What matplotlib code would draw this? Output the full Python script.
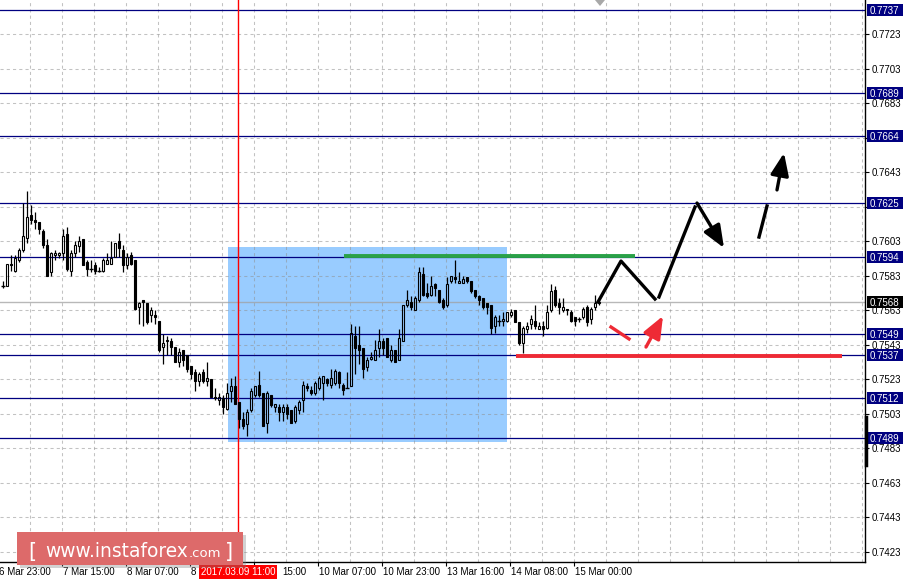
import numpy as np
import matplotlib.pyplot as plt
import matplotlib.transforms as mtransforms
from matplotlib.patches import Rectangle, Polygon

plt.rcParams['font.family'] = ['Liberation Sans', 'DejaVu Sans']

# hourly AUD/USD candles (H1), bar 0 = 6 Mar ~23:00
opens = [0.7577, 0.7577, 0.7590, 0.7586, 0.7592, 0.7598, 0.7605, 0.7618, 0.7615, 0.7614,
         0.7609, 0.7601, 0.7585, 0.7595, 0.7595, 0.7596, 0.7607, 0.7586, 0.7596, 0.7600,
         0.7604, 0.7591, 0.7587, 0.7589, 0.7586, 0.7586, 0.7590, 0.7590, 0.7594, 0.7603,
         0.7598, 0.7589, 0.7595, 0.7592, 0.7565, 0.7569, 0.7567, 0.7560, 0.7560, 0.7557,
         0.7542, 0.7545, 0.7545, 0.7542, 0.7533, 0.7540, 0.7537, 0.7531, 0.7527, 0.7522,
         0.7527, 0.7522, 0.7523, 0.7513, 0.7511, 0.7512, 0.7506, 0.7516, 0.7519, 0.7510,
         0.7500, 0.7497, 0.7505, 0.7514, 0.7520, 0.7515, 0.7498, 0.7514, 0.7507, 0.7507,
         0.7504, 0.7507, 0.7505, 0.7499, 0.7505, 0.7511, 0.7519, 0.7517, 0.7515, 0.7518,
         0.7521, 0.7523, 0.7520, 0.7521, 0.7527, 0.7520, 0.7518, 0.7519, 0.7548, 0.7543,
         0.7541, 0.7530, 0.7535, 0.7534, 0.7541, 0.7545, 0.7547, 0.7534, 0.7540, 0.7534,
         0.7545, 0.7566, 0.7568, 0.7563, 0.7569, 0.7584, 0.7573, 0.7572, 0.7578, 0.7575,
         0.7569, 0.7566, 0.7580, 0.7582, 0.7579, 0.7579, 0.7582, 0.7580, 0.7575, 0.7571,
         0.7570, 0.7567, 0.7566, 0.7554, 0.7557, 0.7557, 0.7557, 0.7560, 0.7563, 0.7556,
         0.7544, 0.7552, 0.7555, 0.7557, 0.7552, 0.7554, 0.7553, 0.7563, 0.7575, 0.7567,
         0.7563, 0.7564, 0.7562, 0.7559, 0.7558, 0.7559, 0.7565, 0.7558, 0.7565, 0.7567]
highs = [0.7580, 0.7590, 0.7595, 0.7595, 0.7599, 0.7625, 0.7632, 0.7624, 0.7620, 0.7614,
         0.7610, 0.7604, 0.7597, 0.7598, 0.7597, 0.7610, 0.7611, 0.7598, 0.7603, 0.7606,
         0.7604, 0.7592, 0.7592, 0.7591, 0.7588, 0.7593, 0.7596, 0.7603, 0.7602, 0.7608,
         0.7601, 0.7596, 0.7597, 0.7592, 0.7568, 0.7569, 0.7567, 0.7565, 0.7563, 0.7557,
         0.7549, 0.7548, 0.7547, 0.7542, 0.7541, 0.7540, 0.7537, 0.7531, 0.7529, 0.7527,
         0.7529, 0.7533, 0.7523, 0.7518, 0.7515, 0.7514, 0.7521, 0.7524, 0.7525, 0.7510,
         0.7504, 0.7506, 0.7518, 0.7519, 0.7528, 0.7515, 0.7516, 0.7514, 0.7509, 0.7509,
         0.7509, 0.7509, 0.7505, 0.7508, 0.7511, 0.7522, 0.7521, 0.7519, 0.7522, 0.7525,
         0.7525, 0.7524, 0.7529, 0.7529, 0.7528, 0.7521, 0.7527, 0.7555, 0.7554, 0.7554,
         0.7541, 0.7536, 0.7539, 0.7546, 0.7552, 0.7547, 0.7547, 0.7543, 0.7540, 0.7552,
         0.7566, 0.7575, 0.7571, 0.7571, 0.7588, 0.7588, 0.7579, 0.7583, 0.7579, 0.7575,
         0.7570, 0.7582, 0.7583, 0.7592, 0.7585, 0.7583, 0.7582, 0.7580, 0.7575, 0.7572,
         0.7570, 0.7567, 0.7566, 0.7560, 0.7560, 0.7562, 0.7562, 0.7564, 0.7563, 0.7556,
         0.7554, 0.7556, 0.7560, 0.7566, 0.7556, 0.7557, 0.7566, 0.7578, 0.7577, 0.7570,
         0.7570, 0.7564, 0.7563, 0.7559, 0.7559, 0.7565, 0.7566, 0.7565, 0.7572, 0.7569]
lows = [0.7576, 0.7577, 0.7586, 0.7585, 0.7591, 0.7597, 0.7602, 0.7613, 0.7610, 0.7607,
        0.7599, 0.7583, 0.7583, 0.7592, 0.7593, 0.7592, 0.7586, 0.7583, 0.7594, 0.7597,
        0.7589, 0.7583, 0.7585, 0.7584, 0.7585, 0.7585, 0.7590, 0.7590, 0.7594, 0.7594,
        0.7585, 0.7587, 0.7589, 0.7563, 0.7555, 0.7554, 0.7555, 0.7556, 0.7555, 0.7539,
        0.7532, 0.7537, 0.7537, 0.7533, 0.7530, 0.7531, 0.7527, 0.7523, 0.7516, 0.7519,
        0.7521, 0.7519, 0.7513, 0.7511, 0.7508, 0.7503, 0.7505, 0.7510, 0.7509, 0.7495,
        0.7494, 0.7490, 0.7504, 0.7513, 0.7513, 0.7496, 0.7492, 0.7507, 0.7504, 0.7499,
        0.7499, 0.7500, 0.7498, 0.7498, 0.7503, 0.7504, 0.7516, 0.7514, 0.7514, 0.7517,
        0.7511, 0.7519, 0.7518, 0.7520, 0.7518, 0.7514, 0.7518, 0.7519, 0.7526, 0.7532,
        0.7524, 0.7528, 0.7534, 0.7534, 0.7536, 0.7537, 0.7536, 0.7533, 0.7533, 0.7534,
        0.7545, 0.7565, 0.7563, 0.7563, 0.7568, 0.7571, 0.7570, 0.7571, 0.7571, 0.7567,
        0.7564, 0.7565, 0.7579, 0.7579, 0.7579, 0.7579, 0.7579, 0.7573, 0.7570, 0.7566,
        0.7564, 0.7561, 0.7549, 0.7550, 0.7554, 0.7554, 0.7556, 0.7559, 0.7556, 0.7543,
        0.7538, 0.7550, 0.7552, 0.7552, 0.7552, 0.7548, 0.7552, 0.7562, 0.7565, 0.7561,
        0.7562, 0.7560, 0.7556, 0.7554, 0.7556, 0.7558, 0.7554, 0.7555, 0.7563, 0.7566]
closes = [0.7577, 0.7590, 0.7589, 0.7593, 0.7598, 0.7606, 0.7617, 0.7615, 0.7614, 0.7610,
          0.7601, 0.7583, 0.7596, 0.7596, 0.7596, 0.7606, 0.7587, 0.7596, 0.7601, 0.7603,
          0.7589, 0.7587, 0.7587, 0.7586, 0.7586, 0.7592, 0.7592, 0.7593, 0.7602, 0.7599,
          0.7589, 0.7594, 0.7590, 0.7564, 0.7567, 0.7568, 0.7556, 0.7563, 0.7559, 0.7540,
          0.7544, 0.7546, 0.7542, 0.7533, 0.7539, 0.7534, 0.7529, 0.7526, 0.7522, 0.7526,
          0.7522, 0.7524, 0.7513, 0.7512, 0.7513, 0.7507, 0.7515, 0.7519, 0.7509, 0.7500,
          0.7496, 0.7504, 0.7516, 0.7519, 0.7514, 0.7496, 0.7515, 0.7508, 0.7509, 0.7504,
          0.7507, 0.7503, 0.7498, 0.7507, 0.7510, 0.7520, 0.7518, 0.7515, 0.7521, 0.7524,
          0.7525, 0.7521, 0.7524, 0.7528, 0.7521, 0.7517, 0.7518, 0.7550, 0.7541, 0.7540,
          0.7529, 0.7534, 0.7536, 0.7540, 0.7545, 0.7541, 0.7536, 0.7540, 0.7533, 0.7547,
          0.7566, 0.7569, 0.7565, 0.7570, 0.7585, 0.7572, 0.7571, 0.7577, 0.7576, 0.7568,
          0.7565, 0.7578, 0.7583, 0.7581, 0.7580, 0.7581, 0.7580, 0.7574, 0.7571, 0.7569,
          0.7565, 0.7565, 0.7553, 0.7559, 0.7557, 0.7558, 0.7562, 0.7562, 0.7556, 0.7544,
          0.7553, 0.7554, 0.7558, 0.7554, 0.7554, 0.7552, 0.7562, 0.7574, 0.7566, 0.7565,
          0.7565, 0.7563, 0.7557, 0.7557, 0.7558, 0.7564, 0.7556, 0.7564, 0.7567, 0.7568]

# time axis: tick bars and the part of each label left visible
time_ticks = [-1.25, 14.75, 30.75, 46.75, 62.75, 78.75, 94.75, 110.75, 126.75, 142.75]
time_labels = ['6 Mar 23:00', '7 Mar 15:00', '8 Mar 07:00', '8', '15:00',
               '10 Mar 07:00', '10 Mar 23:00', '13 Mar 16:00', '14 Mar 08:00', '15 Mar 00:00']
label_shift = [0, 0, 0, 0, 6.75, 0, 0, 0, 0, 0]   # "9 Mar" hidden under the red marker box
marker_bar = 58.75
marker_label = '2017.03.09 11:00'

price_ticks = [0.7423 + 0.002 * k for k in range(16)]
levels = [0.7737, 0.7689, 0.7664, 0.7625, 0.7594, 0.7549, 0.7537, 0.7512, 0.7489]
last_price = 0.7568

# drawn objects (bar index, price)
box_t = (56.25, 126.0)
box_p = (0.74869, 0.75998)
green_t, green_p = (85.25, 158.0), 0.75946
red_t, red_p = (128.25, 209.75), 0.75365
path1_t = [148.75, 154.5, 163.0]
path1_p = [0.75678, 0.75915, 0.75695]
path2_t = [164.0, 173.0]
path2_p = [0.75707, 0.76228]
arrow_down = ((173.5, 0.76251), (180.25, 0.75991))
path3_t = [189.0, 191.0]
path3_p = [0.76054, 0.76234]
arrow_up = ((193.5, 0.76327), (195.25, 0.76541))
red_seg_t = [152.0, 156.5]
red_seg_p = [0.75533, 0.75464]
red_arrow = ((160.75, 0.75417), (165.0, 0.75597))

W, H = 905, 583
fig = plt.figure(figsize=(W / 100, H / 100), dpi=100)
ax = fig.add_axes([0, 21 / H, 865 / W, 562 / H])
ax.set_xlim(-0.75, 215.5)
ax.set_ylim(0.741721, 0.774269)

# grid
grid_x = np.arange(6.75, 215.5, 8)
for gy in price_ticks:
    ax.axhline(gy, color='#909090', alpha=0.55, lw=0.75, ls=(0, (3, 3)), zorder=1)
for gx in grid_x:
    ax.axvline(gx, color='#909090', alpha=0.55, lw=0.75, ls=(0, (3, 3)), zorder=1)

# blue rectangle
ax.add_patch(Rectangle((box_t[0], box_p[0]), box_t[1] - box_t[0], box_p[1] - box_p[0],
                       fc='#99CCFF', ec='none', zorder=0.5))

for lvl in levels:
    ax.axhline(lvl, color='#000080', lw=0.9, zorder=2)
ax.axhline(last_price, color='#A0A0A0', lw=1.0, alpha=0.75, zorder=2)
ax.axvline(marker_bar, color='#FF0000', lw=1.0, zorder=2.2)

# candles
o = np.array(opens); h = np.array(highs); l = np.array(lows); c = np.array(closes)
x = np.arange(len(o))
top = np.maximum(o, c)
bot = np.minimum(o, c)
ax.vlines(x, top, h, color='k', lw=0.9, zorder=3)
ax.vlines(x, l, bot, color='k', lw=0.9, zorder=3)
down = c < o
up = c > o
flat = c == o
ax.bar(x[down], (o - c)[down], bottom=c[down], width=0.6, color='k', edgecolor='k', lw=0.8, zorder=3)
ax.bar(x[up], (c - o)[up], bottom=o[up], width=0.6, facecolor='none', edgecolor='k', lw=0.8, zorder=3)
ax.hlines(o[flat], x[flat] - 0.4, x[flat] + 0.4, color='k', lw=1.0, zorder=3)

# trend objects
ax.plot(green_t, [green_p, green_p], color='#2AA148', lw=2.8, solid_capstyle='butt', zorder=4)
ax.plot(red_t, [red_p, red_p], color='#EE2A35', lw=2.8, solid_capstyle='butt', zorder=4)
ax.plot(path1_t, path1_p, color='k', lw=2.4, zorder=5)
ax.plot(path2_t, path2_p, color='k', lw=2.4, zorder=5)
ax.plot(path3_t, path3_p, color='k', lw=2.4, zorder=5)
ax.plot(red_seg_t, red_seg_p, color='#EE2A35', lw=2.4, zorder=5)
for (start, end), col in [(arrow_down, 'k'), (arrow_up, 'k'), (red_arrow, '#EE2A35')]:
    ax.annotate('', xy=end, xytext=start, zorder=5,
                arrowprops=dict(arrowstyle='-|>,head_length=1.35,head_width=0.55',
                                color=col, lw=2.4, shrinkA=0, shrinkB=0))

# axes styling
for s in ['left', 'top']:
    ax.spines[s].set_visible(False)
ax.spines['right'].set_linewidth(1.0)
ax.spines['bottom'].set_linewidth(1.0)
ax.yaxis.tick_right()
ax.set_yticks(price_ticks)
# labels covered by the level boxes are left blank
ax.set_yticklabels(['' if any(abs(p - v) < 0.0003 for v in levels) and abs(p - 0.7603) > 1e-6
                    and abs(p - 0.7543) > 1e-6 and abs(p - 0.7483) > 1e-6 and abs(p - 0.7683) > 1e-6
                    else '%.4f' % p for p in price_ticks])
ax.tick_params(axis='y', length=3, pad=2, labelsize=7, width=0.8)
ax.set_xticks([t for t in time_ticks if t > -0.75])
ax.tick_params(axis='x', length=3, width=0.8, labelbottom=False)

tx = mtransforms.blended_transform_factory(ax.transData, ax.transAxes)
for t, lab, sh in zip(time_ticks, time_labels, label_shift):
    ax.text(t + 0.25 + sh, -13 / 562, lab, transform=tx, ha='left', va='baseline',
            fontsize=7, clip_on=False)
ax.text(marker_bar, -13 / 562, marker_label, transform=tx, ha='center', va='baseline',
        fontsize=7, color='white', clip_on=False, zorder=10,
        bbox=dict(boxstyle='square,pad=0.2', fc='#FF0000', ec='none'))

ty = mtransforms.blended_transform_factory(ax.transAxes, ax.transData)
ppx = 562 / (0.774269 - 0.741721)
for lvl, col in [(v, '#000080') for v in levels] + [(last_price, 'black')]:
    ax.add_patch(Rectangle((1 + 2 / 865, lvl - 6 / ppx), 36 / 865, 12 / ppx, transform=ty,
                           fc=col, ec='none', clip_on=False, zorder=10))
    ax.text(1 + 5 / 865, lvl, '%.4f' % lvl, transform=ty, ha='left', va='center_baseline',
            fontsize=7, color='white', clip_on=False, zorder=11)

ax.plot([1 + 0.5 / 865] * 2, [0.75012, 0.74734], transform=ty, color='k', lw=2.5,
        clip_on=False, zorder=12)

# chart shift marker at the top
fig.add_artist(Polygon([(595 / W, 1.0), (605 / W, 1.0), (600 / W, 1 - 6 / H)], closed=True,
                       transform=fig.transFigure, fc='#A8A8A8', ec='none', zorder=15))

# logo
fig.add_artist(Rectangle((20 / W, 1 - 568 / H), 226 / W, 33 / H, transform=fig.transFigure,
                         fc='#808080', alpha=0.35, ec='none', zorder=20))
fig.add_artist(Rectangle((17 / W, 1 - 565 / H), 226 / W, 33 / H, transform=fig.transFigure,
                         fc='#DD6A6A', ec='none', zorder=21))
fig.text(28 / W, 1 - 558 / H, '[', color='white', fontsize=15, family='DejaVu Sans', zorder=22)
fig.text(45 / W, 1 - 557 / H, 'www.instaforex', color='white', fontsize=13.4,
         family='DejaVu Sans', zorder=22)
fig.text(189 / W, 1 - 557 / H, '.com', color='white', fontsize=9.5, family='DejaVu Sans', zorder=22)
fig.text(225 / W, 1 - 558 / H, ']', color='white', fontsize=15, family='DejaVu Sans', zorder=22)

fig.savefig('out.png', dpi=100)
